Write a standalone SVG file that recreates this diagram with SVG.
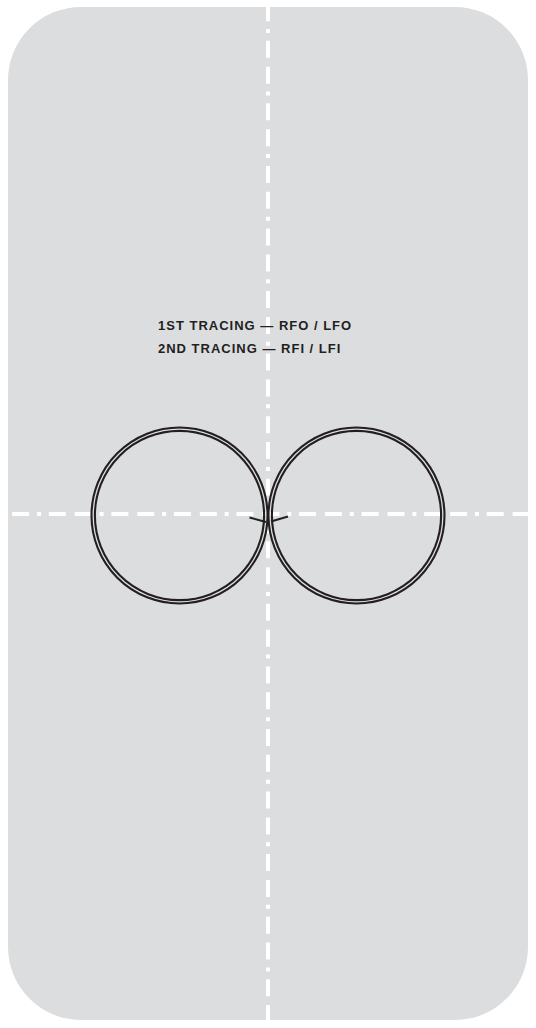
<svg xmlns="http://www.w3.org/2000/svg" width="536" height="1028" viewBox="0 0 536 1028">
  <style>
    .axis { stroke: #ffffff; stroke-width: 4; fill: none; stroke-dasharray: 4 7.8 17 8.9 17 7.86; }
    .trace { stroke: #231f20; stroke-width: 2.1; fill: none; }
    .label { font-family: "Liberation Sans", Arial, sans-serif; font-weight: bold; font-size: 13px; fill: #231f20; letter-spacing: 1px; }
  </style>
  <rect width="536" height="1028" fill="#ffffff"/>
  <g id="rink">
    <rect x="8" y="7" width="520" height="1013" rx="73" ry="73" fill="#dcdddf"/>
  </g>
  <g id="axes">
    <line class="axis" x1="268" y1="-33.56" x2="268" y2="1060"/>
    <line class="axis" x1="-25.56" y1="514" x2="560" y2="514"/>
  </g>
  <g id="left-circle">
    <circle class="trace" cx="179.5" cy="515.5" r="88"/>
    <circle class="trace" cx="179.5" cy="515.5" r="84.6"/>
  </g>
  <g id="right-circle">
    <circle class="trace" cx="356.5" cy="515.5" r="88"/>
    <circle class="trace" cx="356.5" cy="515.5" r="84.6"/>
  </g>
  <g id="takeoff-mark">
    <path class="trace" d="M249.5,517.5 L266,522 M271,521.5 L288,516.5" stroke-width="2"/>
  </g>
  <g id="labels">
    <text class="label" x="158" y="330">1ST TRACING — RFO / LFO</text>
    <text class="label" x="158" y="353">2ND TRACING — RFI / LFI</text>
  </g>
</svg>
